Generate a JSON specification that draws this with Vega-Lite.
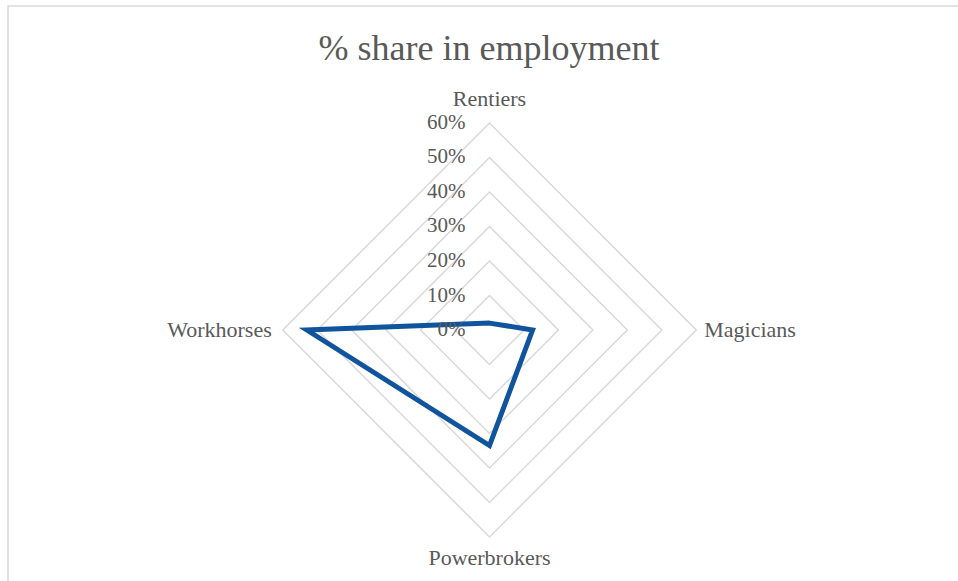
{
  "$schema": "https://vega.github.io/schema/vega-lite/v6.json",
  "width": 958,
  "height": 581,
  "autosize": {"type": "fit", "contains": "padding"},
  "padding": {"left": 8, "top": 6, "right": -4, "bottom": -4},
  "background": "white",
  "config": {
    "view": {"stroke": "#D9D9D9", "strokeWidth": 1.5},
    "font": "Liberation Serif"
  },
  "title": {
    "text": "% share in employment",
    "font": "Liberation Serif",
    "fontSize": 36,
    "fontWeight": "normal",
    "color": "#595959",
    "anchor": "middle",
    "frame": "group",
    "offset": -62,
    "dx": 4
  },
  "datasets": {
    "series": [
      {"category": "Rentiers", "value": 0.02},
      {"category": "Magicians", "value": 0.125},
      {"category": "Powerbrokers", "value": 0.335},
      {"category": "Workhorses", "value": 0.53}
    ],
    "rings": [
      {"level": 0.1, "axis": ["Rentiers", "Magicians", "Powerbrokers", "Workhorses"]},
      {"level": 0.2, "axis": ["Rentiers", "Magicians", "Powerbrokers", "Workhorses"]},
      {"level": 0.3, "axis": ["Rentiers", "Magicians", "Powerbrokers", "Workhorses"]},
      {"level": 0.4, "axis": ["Rentiers", "Magicians", "Powerbrokers", "Workhorses"]},
      {"level": 0.5, "axis": ["Rentiers", "Magicians", "Powerbrokers", "Workhorses"]},
      {"level": 0.6, "axis": ["Rentiers", "Magicians", "Powerbrokers", "Workhorses"]}
    ],
    "ticks": [
      {"level": 0}, {"level": 0.1}, {"level": 0.2}, {"level": 0.3},
      {"level": 0.4}, {"level": 0.5}, {"level": 0.6}
    ],
    "axes": [
      {"category": "Rentiers", "r": 0.6},
      {"category": "Magicians", "r": 0.6},
      {"category": "Powerbrokers", "r": 0.6},
      {"category": "Workhorses", "r": 0.6}
    ]
  },
  "layer": [
    {
      "data": {"name": "rings"},
      "transform": [
        {"flatten": ["axis"]},
        {"calculate": "indexof(['Rentiers','Magicians','Powerbrokers','Workhorses'], datum.axis)", "as": "idx"},
        {"calculate": "datum.level * (datum.axis === 'Magicians' ? 1 : datum.axis === 'Workhorses' ? -1 : 0)", "as": "x"},
        {"calculate": "datum.level * (datum.axis === 'Rentiers' ? 1 : datum.axis === 'Powerbrokers' ? -1 : 0)", "as": "y"}
      ],
      "mark": {"type": "line", "interpolate": "linear-closed", "color": "#D9D9D9", "strokeWidth": 1.5},
      "encoding": {
        "x": {"field": "x", "type": "quantitative", "scale": {"domain": [-1.3971, 1.3710], "nice": false, "zero": false}, "axis": null},
        "y": {"field": "y", "type": "quantitative", "scale": {"domain": [-0.7391, 0.9391], "nice": false, "zero": false}, "axis": null},
        "detail": {"field": "level"},
        "order": {"field": "idx"}
      }
    },
    {
      "data": {"name": "series"},
      "transform": [
        {"calculate": "indexof(['Rentiers','Magicians','Powerbrokers','Workhorses'], datum.category)", "as": "idx"},
        {"calculate": "datum.value * (datum.category === 'Magicians' ? 1 : datum.category === 'Workhorses' ? -1 : 0)", "as": "x"},
        {"calculate": "datum.value * (datum.category === 'Rentiers' ? 1 : datum.category === 'Powerbrokers' ? -1 : 0)", "as": "y"}
      ],
      "mark": {"type": "line", "interpolate": "linear-closed", "color": "#0F549C", "strokeWidth": 5, "strokeJoin": "miter"},
      "encoding": {
        "x": {"field": "x", "type": "quantitative"},
        "y": {"field": "y", "type": "quantitative"},
        "order": {"field": "idx"}
      }
    },
    {
      "data": {"name": "ticks"},
      "mark": {"type": "text", "align": "right", "baseline": "middle", "dx": -24, "fontSize": 21, "color": "#595959", "font": "Liberation Serif"},
      "encoding": {
        "x": {"datum": 0, "type": "quantitative"},
        "y": {"field": "level", "type": "quantitative"},
        "text": {"field": "level", "type": "quantitative", "format": ".0%"}
      }
    },
    {
      "data": {"name": "axes"},
      "transform": [{"filter": "datum.category === 'Rentiers'"}],
      "mark": {"type": "text", "fontSize": 22, "color": "#595959", "font": "Liberation Serif", "baseline": "middle", "align": "center", "dy": -24},
      "encoding": {
        "x": {"datum": 0, "type": "quantitative"},
        "y": {"field": "r", "type": "quantitative"},
        "text": {"field": "category"}
      }
    },
    {
      "data": {"name": "axes"},
      "transform": [{"filter": "datum.category === 'Powerbrokers'"}, {"calculate": "-datum.r", "as": "y"}],
      "mark": {"type": "text", "fontSize": 22, "color": "#595959", "font": "Liberation Serif", "baseline": "middle", "align": "center", "dy": 21},
      "encoding": {
        "x": {"datum": 0, "type": "quantitative"},
        "y": {"field": "y", "type": "quantitative"},
        "text": {"field": "category"}
      }
    },
    {
      "data": {"name": "axes"},
      "transform": [{"filter": "datum.category === 'Magicians'"}],
      "mark": {"type": "text", "fontSize": 22, "color": "#595959", "font": "Liberation Serif", "baseline": "middle", "align": "left", "dx": 8},
      "encoding": {
        "x": {"field": "r", "type": "quantitative"},
        "y": {"datum": 0, "type": "quantitative"},
        "text": {"field": "category"}
      }
    },
    {
      "data": {"name": "axes"},
      "transform": [{"filter": "datum.category === 'Workhorses'"}, {"calculate": "-datum.r", "as": "x"}],
      "mark": {"type": "text", "fontSize": 22, "color": "#595959", "font": "Liberation Serif", "baseline": "middle", "align": "right", "dx": -11},
      "encoding": {
        "x": {"field": "x", "type": "quantitative"},
        "y": {"datum": 0, "type": "quantitative"},
        "text": {"field": "category"}
      }
    }
  ]
}
